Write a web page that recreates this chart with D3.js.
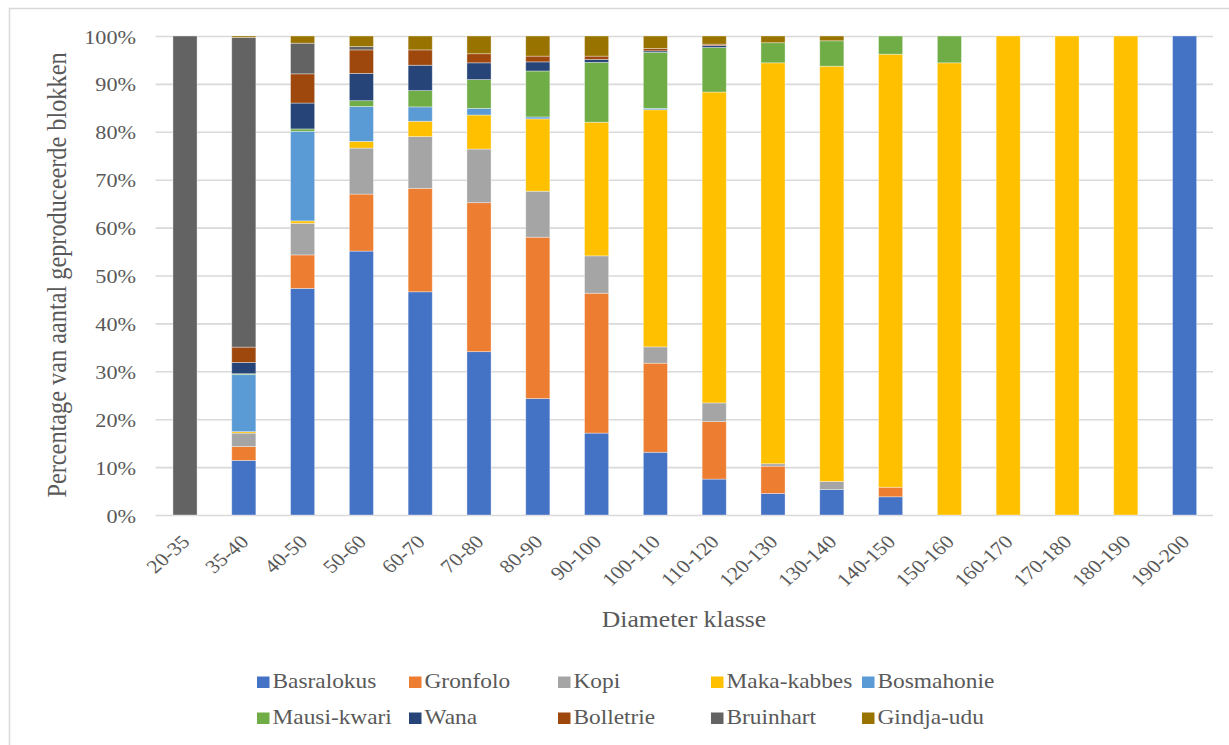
<!DOCTYPE html>
<html>
<head>
<meta charset="utf-8">
<script src="https://cdn.jsdelivr.net/npm/d3@7"></script>
<style>
  html, body { margin: 0; padding: 0; background: #fff; }
  svg { display: block; }
  text { font-family: "Liberation Serif", "DejaVu Serif", serif; fill: #595959; }
</style>
</head>
<body>
<svg id="chart" width="1229" height="745"></svg>
<script>
// Diameter classes (cm)
const classes = ["20-35", "35-40", "40-50", "50-60", "60-70", "70-80", "80-90", "90-100", "100-110",
  "110-120", "120-130", "130-140", "140-150", "150-160", "160-170", "170-180", "180-190", "190-200"];

// Share of produced blocks per species, in percent, per diameter class
const basralokus = [0, 11.4, 47.3, 55.1, 46.6, 34.1, 24.3, 17.1, 13.1, 7.5, 4.5, 5.3, 3.8, 0, 0, 0, 0, 100];
const gronfolo   = [0, 2.9, 7.0, 11.9, 21.6, 31.1, 33.7, 29.2, 18.6, 12.0, 5.7, 0, 2.0, 0, 0, 0, 0, 0];
const kopi       = [0, 2.8, 6.6, 9.6, 10.8, 11.2, 9.6, 7.8, 3.4, 3.9, 0.5, 1.7, 0, 0, 0, 0, 0, 0];
const makaKabbes = [0, 0.3, 0.5, 1.4, 3.2, 7.1, 15.1, 27.9, 49.5, 64.9, 83.7, 86.7, 90.4, 94.4, 100, 100, 100, 0];
const bosmahonie = [0, 11.9, 18.7, 7.3, 3.0, 1.4, 0.4, 0, 0.3, 0, 0, 0, 0, 0, 0, 0, 0, 0];
const mausiKwari = [0, 0.2, 0.5, 1.2, 3.4, 6.0, 9.6, 12.5, 11.7, 9.3, 4.2, 5.3, 3.8, 5.6, 0, 0, 0, 0];
const wana       = [0, 2.35, 5.4, 5.7, 5.3, 3.5, 1.9, 0.6, 0.3, 0.4, 0, 0, 0, 0, 0, 0, 0, 0];
const bolletrie  = [0, 3.2, 6.1, 4.9, 3.2, 1.9, 1.2, 0.7, 0.5, 0.3, 0, 0, 0, 0, 0, 0, 0, 0];
const bruinhart  = [100, 64.65, 6.4, 0.7, 0, 0, 0, 0, 0, 0, 0, 0, 0, 0, 0, 0, 0, 0];
const gindjaUdu  = [0, 0.3, 1.5, 2.2, 2.9, 3.7, 4.2, 4.2, 2.6, 1.7, 1.4, 1.0, 0, 0, 0, 0, 0, 0];

const seriesNames = ["Basralokus", "Gronfolo", "Kopi", "Maka-kabbes", "Bosmahonie",
  "Mausi-kwari", "Wana", "Bolletrie", "Bruinhart", "Gindja-udu"];
const seriesValues = [basralokus, gronfolo, kopi, makaKabbes, bosmahonie,
  mausiKwari, wana, bolletrie, bruinhart, gindjaUdu];
const seriesColors = ["#4472C4", "#ED7D31", "#A5A5A5", "#FFC000", "#5B9BD5",
  "#70AD47", "#264478", "#9E480E", "#636363", "#997300"];

const yTicks = [0, 10, 20, 30, 40, 50, 60, 70, 80, 90, 100];

const xTitle = "Diameter klasse";
const yTitle = "Percentage van aantal geproduceerde blokken";

// Glyphs are rendered slightly wide
const SX = 1.14;
const FONT = "'Liberation Serif', 'DejaVu Serif', serif";

const svg = d3.select("#chart");

// outer frame
svg.append("rect")
  .attr("x", 9.5).attr("y", 8.5)
  .attr("width", 1240).attr("height", 760)
  .attr("fill", "none").attr("stroke", "#d9d9d9").attr("stroke-width", 1.5);

const plot = { left: 155.6, right: 1214, top: 36, bottom: 515 };

const x = d3.scaleBand()
  .domain(classes)
  .range([plot.left, plot.right])
  .paddingInner(0.59)
  .paddingOuter(0.295);

const y = d3.scaleLinear().domain([0, 100]).range([plot.bottom, plot.top]);

const color = d3.scaleOrdinal().domain(seriesNames).range(seriesColors);

// rows for stacking
const rows = classes.map((c, i) => {
  const r = { klasse: c };
  seriesNames.forEach((n, j) => { r[n] = seriesValues[j][i]; });
  return r;
});
const stacked = d3.stack().keys(seriesNames)(rows);

// gridlines + y tick labels
const yAxis = svg.append("g")
  .attr("transform", `translate(${plot.left},0)`)
  .call(d3.axisLeft(y)
    .tickValues(yTicks)
    .tickFormat(d => d + "%")
    .tickSizeInner(-(plot.right - plot.left - 1))
    .tickSizeOuter(0)
    .tickPadding(0));
yAxis.attr("font-family", FONT);
yAxis.select(".domain").remove();
yAxis.selectAll(".tick line")
  .attr("stroke", "#d9d9d9").attr("stroke-width", 1.6);
yAxis.selectAll(".tick text")
  .attr("x", -19.6 / SX)
  .attr("dy", "0.36em")
  .attr("transform", `scale(${SX},1)`)
  .style("font-size", "19.5px")
  .style("font-family", FONT)
  .attr("fill", "#595959");

// stacked bars
svg.append("g")
  .selectAll("g")
  .data(stacked)
  .join("g")
  .attr("fill", d => color(d.key))
  .selectAll("rect")
  .data(d => d.filter(s => s[1] - s[0] > 0))
  .join("rect")
  .attr("x", d => x(d.data.klasse))
  .attr("width", x.bandwidth())
  .attr("y", d => y(d[1]))
  .attr("height", d => y(d[0]) - y(d[1]))
  .attr("stroke", "#ffffff")
  .attr("stroke-opacity", 0.45)
  .attr("stroke-width", 0.8);

// x tick labels
const xAxis = svg.append("g")
  .attr("transform", `translate(0,${plot.bottom})`)
  .call(d3.axisBottom(x).tickSize(0).tickPadding(0));
xAxis.attr("font-family", FONT);
xAxis.select(".domain").remove();
xAxis.selectAll(".tick text")
  .attr("x", 0).attr("y", 0).attr("dy", 0)
  .attr("text-anchor", "end")
  .attr("transform", `translate(6,28) scale(${SX},1) rotate(-45)`)
  .style("font-size", "19px")
  .style("font-family", FONT)
  .attr("fill", "#595959");

// axis titles
svg.append("text")
  .attr("transform", `translate(684,627) scale(${SX},1)`)
  .attr("text-anchor", "middle")
  .style("font-size", "22.5px")
  .text(xTitle);

svg.append("text")
  .attr("transform", `translate(66,275) scale(${SX},1) rotate(-90)`)
  .attr("text-anchor", "middle")
  .style("font-size", "24.3px")
  .text(yTitle);

// legend: two rows of five
const legendCols = [257, 409, 558, 711, 862];
const legendRows = [688, 724];
const legend = svg.append("g")
  .selectAll("g")
  .data(seriesNames)
  .join("g")
  .attr("transform", (d, i) => `translate(${legendCols[i % 5]},${legendRows[Math.floor(i / 5)]})`);
legend.append("rect")
  .attr("x", 0).attr("y", -11.5)
  .attr("width", 12.5).attr("height", 11.5)
  .attr("fill", d => color(d));
legend.append("text")
  .attr("transform", `translate(15.5,0) scale(${SX},1)`)
  .style("font-size", "20.5px")
  .text(d => d);
</script>
</body>
</html>
